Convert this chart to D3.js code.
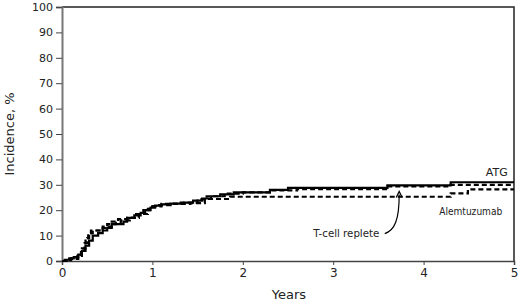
<!DOCTYPE html>
<html>
<head>
<meta charset="utf-8">
<script src="https://cdn.jsdelivr.net/npm/d3@7"></script>
<style>
  body { margin: 0; background: #fff; }
  svg text { font-family: "DejaVu Sans", Verdana, sans-serif; fill: #222; }
</style>
</head>
<body>
<div id="chart"></div>
<script>

// step curves: [years, incidence %]
var atg = [[0,0],[0.03,0.5],[0.08,1],[0.13,1.5],[0.18,2.5],[0.22,4],[0.26,6],[0.3,8],[0.34,10],
  [0.4,11],[0.45,12],[0.5,13],[0.55,14.5],[0.68,15.5],[0.72,17],[0.8,18],[0.87,19],[0.92,20],
  [0.98,21],[1.03,21.8],[1.1,22.3],[1.2,22.6],[1.35,23],[1.45,23.8],[1.55,24.6],[1.65,25.5],
  [1.75,26.2],[1.9,27],[2.3,28],[2.5,28.8],[3.6,29.8],[4.3,31],[5,31]];

var tcellReplete = [[0,0],[0.05,0.5],[0.1,1],[0.17,2],[0.21,4],[0.25,7],[0.28,9],[0.3,11],
  [0.34,12],[0.45,13],[0.5,14.5],[0.6,15],[0.65,16],[0.75,17],[0.85,18.5],[0.95,20.5],[1.0,21.5],
  [1.1,22.5],[1.3,23],[1.5,24.3],[1.6,25.5],[1.8,26.5],[2.0,27],[2.3,27.8],[2.6,28.3],[3.6,29.4],
  [4.3,30],[5,30]];

var alemtuzumab = [[0,0],[0.05,0.3],[0.1,0.8],[0.18,2],[0.22,5],[0.26,8],[0.29,11],[0.32,12],
  [0.45,13.5],[0.55,15.5],[0.62,16.5],[0.72,17],[0.82,18.5],[0.9,20],[0.97,21.5],[1.05,22],
  [1.2,22.5],[1.42,22.8],[1.58,24.4],[1.86,25.3],[4.3,26.6],[4.49,28.2],[5,28.2]];

var xTicks = [0, 1, 2, 3, 4, 5];
var yTicks = [0, 10, 20, 30, 40, 50, 60, 70, 80, 90, 100];

function init(){

	var w = 520;
	var h = 302;
	var left = 62, right = 514, top = 7, bottom = 261;

	var xScale = d3.scaleLinear().domain([0, 5]).range([left, right]);
	var yScale = d3.scaleLinear().domain([0, 100]).range([bottom, top]);

	var svg = d3.select("#chart")
				.append("svg")
				.attr("width", w)
				.attr("height", h);

	// frame: top and right
	svg.append("path")
		.attr("d", "M" + left + "," + top + "H" + right + "V" + bottom)
		.attr("fill", "none")
		.attr("stroke", "#222")
		.attr("stroke-width", 1.5);

	var xAxis = d3.axisBottom(xScale).tickValues(xTicks).tickSize(4).tickPadding(3)
					.tickFormat(d3.format("d"));
	var gx = svg.append("g")
		.attr("transform", "translate(0," + bottom + ")")
		.call(xAxis);
	gx.select(".domain").attr("stroke", "#444").attr("stroke-width", 1.5);
	gx.selectAll(".tick line").attr("stroke", "#444");
	gx.selectAll(".tick text").attr("font-size", 12).style("fill", "#222");

	var yAxis = d3.axisLeft(yScale).tickValues(yTicks).tickSize(6).tickPadding(3);
	var gy = svg.append("g")
		.attr("transform", "translate(" + left + ",0)")
		.call(yAxis);
	gy.select(".domain").attr("stroke", "#777").attr("stroke-width", 2);
	gy.selectAll(".tick line").attr("stroke", "#444");
	gy.selectAll(".tick text").attr("font-size", 11).style("fill", "#222");
	gx.attr("font-family", null); gy.attr("font-family", null);

	var line = d3.line()
		.curve(d3.curveStepAfter)
		.x(function(d){ return xScale(d[0]); })
		.y(function(d){ return yScale(d[1]); });

	var series = [
		{ data: alemtuzumab, dash: "5,3" },
		{ data: tcellReplete, dash: "5,3" },
		{ data: atg, dash: null }
	];

	svg.selectAll("path.curve")
		.data(series)
		.enter()
		.append("path")
		.attr("class", "curve")
		.attr("d", function(d){ return line(d.data); })
		.attr("fill", "none")
		.attr("stroke", "#000")
		.attr("stroke-width", 2.2)
		.attr("stroke-dasharray", function(d){ return d.dash; });

	// labels
	svg.append("text")
		.attr("x", xScale(4.93)).attr("y", yScale(33.5))
		.attr("text-anchor", "end")
		.attr("font-size", 11)
		.text("ATG");

	svg.append("text")
		.attr("x", xScale(4.87)).attr("y", yScale(18))
		.attr("text-anchor", "end")
		.attr("font-size", 10.5)
		.attr("textLength", 63)
		.attr("lengthAdjust", "spacingAndGlyphs")
		.text("Alemtuzumab");

	svg.append("text")
		.attr("x", xScale(2.78)).attr("y", yScale(9.6))
		.attr("font-size", 10.5)
		.attr("textLength", 66)
		.attr("lengthAdjust", "spacingAndGlyphs")
		.text("T-cell replete");

	// arrow to T-cell replete curve
	var ax = xScale(3.57), ay = yScale(10.8);
	var tx = xScale(3.73), ty = yScale(27.4);
	svg.append("path")
		.attr("d", "M" + ax + "," + ay + " C" + (ax + 10) + "," + (ay - 3) + " " + (tx) + "," + (ay - 14) + " " + tx + "," + (ty + 3))
		.attr("fill", "none")
		.attr("stroke", "#000")
		.attr("stroke-width", 1.2);
	svg.append("path")
		.attr("d", "M" + (tx - 3) + "," + (ty + 6) + " L" + tx + "," + ty + " L" + (tx + 3) + "," + (ty + 6))
		.attr("fill", "none")
		.attr("stroke", "#000")
		.attr("stroke-width", 1.2);

	// axis titles
	svg.append("text")
		.attr("x", (left + right) / 2 + 1).attr("y", 299)
		.attr("text-anchor", "middle")
		.attr("font-size", 13)
		.text("Years");

	svg.append("text")
		.attr("transform", "translate(14," + ((top + bottom) / 2) + ") rotate(-90)")
		.attr("text-anchor", "middle")
		.attr("font-size", 13)
		.text("Incidence, %");
}

window.onload = init;
</script>
</body>
</html>
